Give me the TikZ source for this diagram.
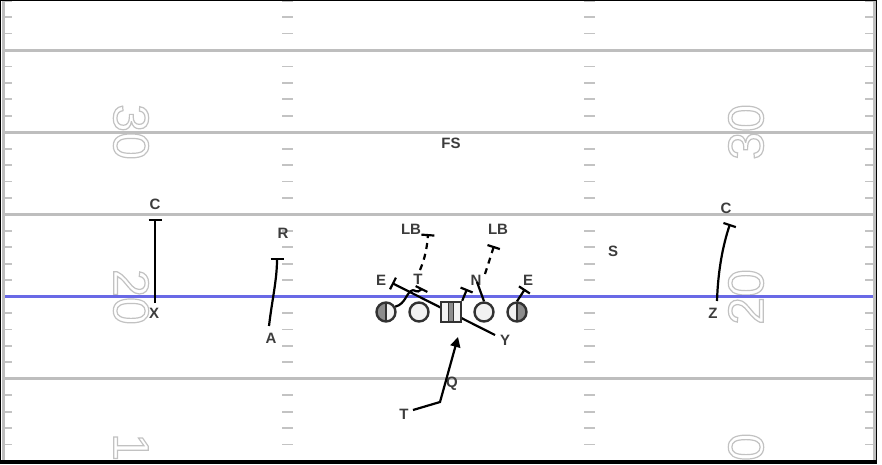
\documentclass[tikz,border=0pt]{standalone}
\usepackage{fontspec}
\setmainfont{Liberation Sans}
\usetikzlibrary{arrows.meta,calc}
\definecolor{fieldline}{RGB}{190,190,190}
\definecolor{tickc}{RGB}{195,195,195}
\definecolor{los}{RGB}{105,105,230}
\definecolor{lbl}{RGB}{60,60,60}
\definecolor{numc}{RGB}{195,195,195}
\definecolor{pstroke}{RGB}{50,50,50}
\definecolor{pfill}{RGB}{242,242,242}
\definecolor{pgray}{RGB}{140,140,140}
\newcommand{\outl}[1]{\special{pdf:literal direct 1 Tr 1.2 w 0.76 G}#1\special{pdf:literal direct 0 Tr}}
\begin{document}
\begin{tikzpicture}[x=1pt,y=-1pt,
  yard/.style={fieldline, line width=3pt},
  tick/.style={tickc, line width=1.8pt},
  lab/.style={font=\fontsize{15}{15}\selectfont\bfseries, text=lbl, inner sep=0pt},
  num/.style={font=\fontsize{50}{50}\selectfont, inner sep=0pt, text=numc},
  player/.style={circle, draw=pstroke, line width=2.4pt, fill=pfill, minimum size=19pt, inner sep=0pt},
  halfL/.style={path picture={\fill[pgray] (path picture bounding box.south west) rectangle (path picture bounding box.north);
     \draw[pstroke, line width=1.2pt] (path picture bounding box.south) -- (path picture bounding box.north);}},
  halfR/.style={path picture={\fill[pgray] (path picture bounding box.south east) rectangle (path picture bounding box.north);
     \draw[pstroke, line width=1.2pt] (path picture bounding box.south) -- (path picture bounding box.north);}},
  center/.style={rectangle, draw=pstroke, line width=2.4pt, fill=pfill, minimum size=20pt, inner sep=0pt,
     path picture={\fill[pgray] ([xshift=-2.5pt]path picture bounding box.south) rectangle ([xshift=2.5pt]path picture bounding box.north);
     \draw[pstroke, line width=0.8pt] ([xshift=-2.5pt]path picture bounding box.south) -- ([xshift=-2.5pt]path picture bounding box.north)
       ([xshift=2.5pt]path picture bounding box.south) -- ([xshift=2.5pt]path picture bounding box.north);}},
  route/.style={black, line width=2.2pt},
  block/.style={-{Bar[width=13pt]}},
  ]
\useasboundingbox (0,0) rectangle (882,464);
\fill[white] (0,0) rectangle (882,464);
\begin{scope}
\clip (0,0) rectangle (877,461);
% numbers
\node[num, rotate=-90] (n30l) at (131,132) {\outl{30}};
\node[num, rotate=-90] (n20l) at (131,297) {\outl{20}};
\node[num, rotate=-90] (n10l) at (131,461) {\outl{10}};
\node[num, rotate=90] (n30r) at (746,132) {\outl{30}};
\node[num, rotate=90] (n20r) at (746,297) {\outl{20}};
\node[num, rotate=90] (n10r) at (746,461) {\outl{10}};
% hash marks
\foreach \b in {-1,0,1,2,3,4}{
  \foreach \j in {1,2,3,4}{
    \pgfmathsetmacro{\yy}{50+82.2*\b+16.44*\j}
    \draw[tick] (4,\yy) -- (12,\yy);
    \draw[tick] (865,\yy) -- (873,\yy);
    \draw[tick] (282,\yy) -- (293,\yy);
    \draw[tick] (584,\yy) -- (595,\yy);
  }
}
% yard lines
\foreach \yy in {50,132.2,214.4,378.8}{
  \draw[yard] (3,\yy) -- (875,\yy);
}
\draw[los, line width=2.6pt] (3,296.6) -- (875,296.6);
% sidelines
\draw[fieldline, line width=3.5pt] (3.5,0) -- (3.5,461);
\draw[fieldline, line width=3.5pt] (874.5,0) -- (874.5,461);
\end{scope}
\draw[black, line width=1.2pt] (0.6,0.6) rectangle (876.4,461);
\draw[black, line width=3pt] (0,462) -- (877,462);

% labels
\node[lab] (FS) at (451,143) {FS};
\node[lab] (CL) at (155,204) {C};
\node[lab] (CR) at (726,208) {C};
\node[lab] (R) at (283,233) {R};
\node[lab] (LBL) at (411,229) {LB};
\node[lab] (LBR) at (498,229) {LB};
\node[lab] (S) at (613,251) {S};
\node[lab] (EL) at (381,280) {E};
\node[lab] (TT) at (418,279) {T};
\node[lab] (N) at (476,280) {N};
\node[lab] (ER) at (528,280) {E};
\node[lab] (X) at (154,313) {X};
\node[lab] (Z) at (713,313) {Z};
\node[lab] (A) at (271,338) {A};
\node[lab] (Y) at (505,340) {Y};
\node[lab] (Q) at (452,384) {Q};
\node[lab] (TB) at (404,414) {T};

% routes
\coordinate (x0) at (155,303); \coordinate (x1) at (155,219);
\draw[route, block] (x0) -- (x1);
\coordinate (z0) at (717,301); \coordinate (z1) at (730,224);
\draw[route, block] (z0) .. controls (718,270) and (723,245) .. (z1);
\coordinate (a0) at (269,326); \coordinate (a1) at (277,258);
\draw[route, block] (a0) .. controls (272,300) and (277,280) .. (a1);
\coordinate (y0) at (495,335); \coordinate (y1) at (392,283);
\draw[route, block] (y0) -- (y1);
\coordinate (lbl0) at (420,270); \coordinate (lbl1) at (428,234);
\draw[route, block, dash pattern=on 6pt off 5pt] (lbl0) .. controls (425,258) and (427,248) .. (lbl1);
\coordinate (lbr0) at (485,274); \coordinate (lbr1) at (494,246);
\draw[route, block, dash pattern=on 6pt off 5pt] (lbr0) -- (lbr1);

% players
\node[player, halfL] (p1) at (386,312) {};
\node[player] (p2) at (419,312) {};
\node[center] (p3) at (451,312) {};
\node[player] (p4) at (484,312) {};
\node[player, halfR] (p5) at (517,312) {};

\coordinate (e1) at (413,290); \coordinate (t1) at (422,288);
\draw[route] (p1.30) .. controls (406,304) and (406,292) .. (e1);
\draw[route, block] (e1) .. controls (417,292) and (420,292) .. (t1);
\coordinate (c1) at (467,289);
\draw[route, block] (p3.north east) -- (c1);
\coordinate (n1) at (477,282);
\draw[route] (p4.north) -- (n1);
\coordinate (e2) at (525,289);
\draw[route, block] (p5.north) -- (e2);

\coordinate (q0) at (413,410); \coordinate (q1) at (440,402); \coordinate (q2) at (458,337);
\draw[route, -{Triangle[length=10pt,width=10pt]}] (q0) -- (q1) -- (q2);
\end{tikzpicture}
\end{document}
